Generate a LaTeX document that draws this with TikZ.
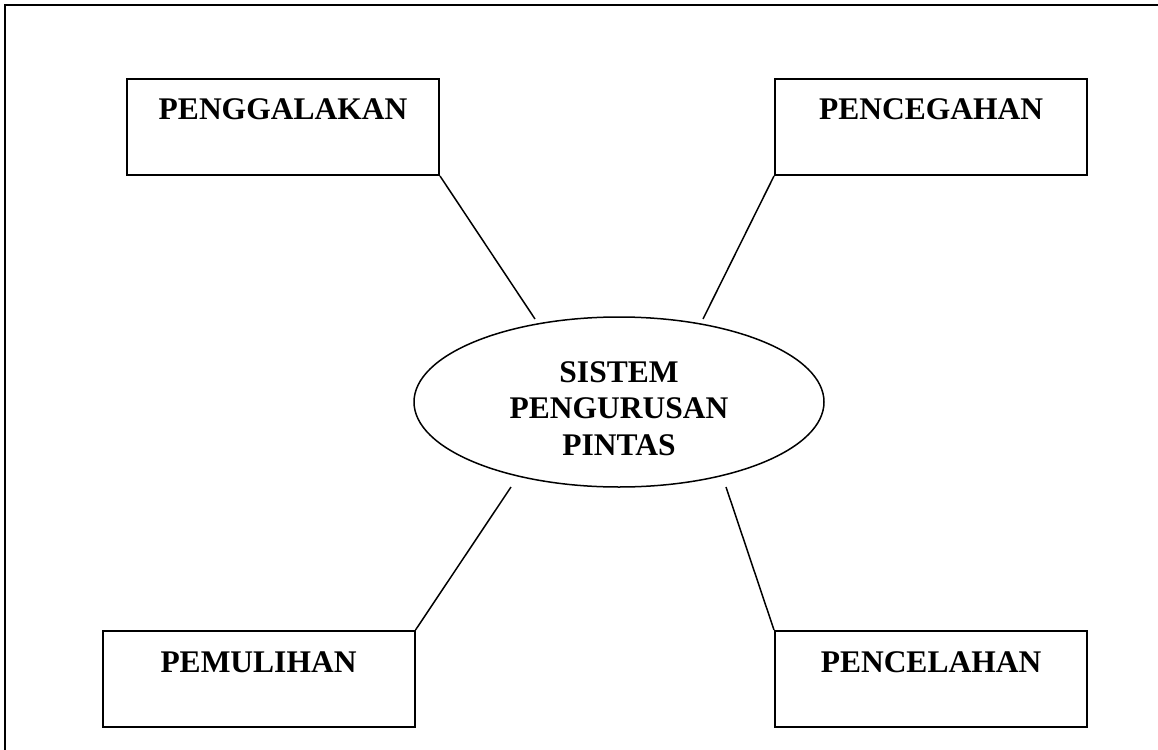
\documentclass[tikz,border=0pt]{standalone}
\usepackage{fontspec}
\setmainfont{Liberation Serif}
\usetikzlibrary{shapes.geometric, positioning, calc}

\begin{document}
\begin{tikzpicture}[x=1pt, y=-1pt,
    kotak/.style={draw=black, line width=2pt, minimum width=312pt, minimum height=96pt,
      inner sep=0pt, text height=21pt, text depth=35pt, font=\fontsize{31.5}{36.5}\selectfont\bfseries},
    garis/.style={line width=1.5pt}]
  \useasboundingbox (0,0) rectangle (1158,749);
  % bingkai luar
  \draw[line width=2pt] (5,5) rectangle (1170,760);

  \node[ellipse, draw=black, line width=1.5pt, minimum width=410pt, minimum height=170pt,
    inner sep=0pt, align=center, text height=106pt, text depth=0pt,
    font=\fontsize{31.5}{36.5}\selectfont\bfseries] (pusat) at (619,402) {SISTEM\\PENGURUSAN\\PINTAS};

  \node[kotak] (galak) at (283,127) {PENGGALAKAN};
  \node[kotak] (cegah) at (931,127) {PENCEGAHAN};
  \node[kotak] (pulih) at (258.5,679) {PEMULIHAN};
  \node[kotak] (celah) at (931,679) {PENCELAHAN};

  % hujung garis dekat elips
  \coordinate (hgalak) at (535,319);
  \coordinate (hcegah) at (703,319);
  \coordinate (hpulih) at (511,487);
  \coordinate (hcelah) at (726,487);

  \draw[garis] (galak.south east) -- (hgalak);
  \draw[garis] (cegah.south west) -- (hcegah);
  \draw[garis] (pulih.north east) -- (hpulih);
  \draw[garis] (celah.north west) -- (hcelah);
\end{tikzpicture}
\end{document}
